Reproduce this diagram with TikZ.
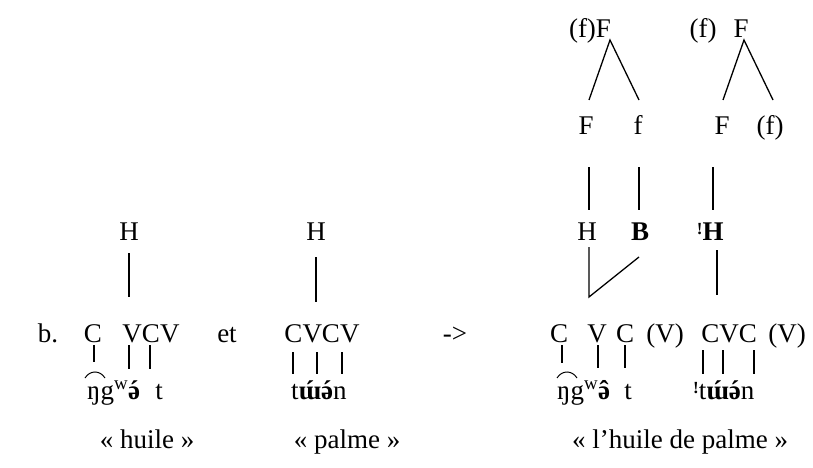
\documentclass[tikz,border=0pt]{standalone}
\usepackage{fontspec}
\setmainfont{Liberation Serif}
\newcommand{\dstep}{{\fontsize{17}{17}\selectfont\raisebox{6pt}{\textbf{!}}}}
\newcommand{\accon}[2]{\leavevmode\hbox{\ooalign{#1\cr\hidewidth#2\hidewidth\cr}}}
\newcommand{\schwaac}{\accon{\textbf{ə}}{\textbf{´}}}
\newcommand{\schwacirc}{\accon{\textbf{ə}}{\textbf{ˆ}}}
\newcommand{\uac}{\accon{\textbf{ɯ}}{\textbf{´}}}
\begin{document}
\begin{tikzpicture}[x=1pt,y=-1pt]
\tikzset{
  lbl/.style={anchor=base, inner sep=0pt, font=\fontsize{27}{32}\selectfont},
  lbw/.style={lbl, anchor=base west},
  assoc/.style={line width=1.3pt},
}
\useasboundingbox (0,0) rectangle (813,468);
% ---- left: huile
\node[lbl] (b) at (48,342) {b.};
\node[lbl] (hH) at (129,240) {H};
\node[lbl] (hC) at (93,342) {C};
\node[lbl] (hVCV) at (151,342) {VCV};
\node[lbl] (et) at (227,342) {et};
\node[lbw] (hipa) at (87,399) {ŋg\textsuperscript{w}\schwaac};
\node[lbl] (ht) at (159,399) {t};
\node[lbl] (hgl) at (147,448) {«~huile~»};
\coordinate (hH1) at (129,253); \coordinate (hH2) at (129,297);
\draw[assoc] (hH1) -- (hH2);
\coordinate (ha1) at (94,345); \coordinate (ha2) at (94,362);
\coordinate (hb1) at (129,345); \coordinate (hb2) at (129,369);
\coordinate (hc1) at (150,345); \coordinate (hc2) at (150,369);
\draw[assoc] (ha1) -- (ha2) (hb1) -- (hb2) (hc1) -- (hc2);
\coordinate (htie1) at (85,378); \coordinate (htie2) at (105,378);
\draw[line width=1pt] (htie1) .. controls (90,370) and (100,370) .. (htie2);
% ---- middle: palme
\node[lbl] (pH) at (316,240) {H};
\node[lbl] (pCVCV) at (322,342) {CVCV};
\node[lbw] (pipa) at (291,399) {t\uac\schwaac n};
\node[lbl] (pgl) at (347,448) {«~palme~»};
\coordinate (pH1) at (316,257); \coordinate (pH2) at (316,302);
\draw[assoc] (pH1) -- (pH2);
\coordinate (pa1) at (293,352); \coordinate (pa2) at (293,374);
\coordinate (pb1) at (317,352); \coordinate (pb2) at (317,374);
\coordinate (pc1) at (342,352); \coordinate (pc2) at (342,374);
\draw[assoc] (pa1) -- (pa2) (pb1) -- (pb2) (pc1) -- (pc2);
\node[lbl] (arr) at (455,342) {->};
% ---- right: l'huile de palme
\node[lbl] (t1) at (590,38) {(f)F};
\node[lbl] (t2a) at (703,38) {(f)};
\node[lbl] (t2b) at (741,38) {F};
\node[lbl] (r1F) at (586,134) {F};
\node[lbl] (r1f) at (638,134) {f};
\node[lbl] (r2F) at (722,134) {F};
\node[lbl] (r2f) at (770,134) {(f)};
\coordinate (ap1) at (610,40); \coordinate (l1a) at (589,100); \coordinate (l1b) at (639,100);
\coordinate (ap2) at (744,40); \coordinate (l2a) at (723,100); \coordinate (l2b) at (773,100);
\draw[assoc] (l1a) -- (ap1) -- (l1b);
\draw[assoc] (l2a) -- (ap2) -- (l2b);
\node[lbl] (rH) at (587,240) {H};
\node[lbl] (rB) at (640,240) {\textbf{B}};
\node[lbl] (rdH) at (713,240) {\llap{\dstep}\textbf{H}};
\coordinate (v1a) at (589,167); \coordinate (v1b) at (589,210);
\coordinate (v2a) at (639,167); \coordinate (v2b) at (639,210);
\coordinate (v3a) at (713,167); \coordinate (v3b) at (713,210);
\draw[assoc] (v1a) -- (v1b) (v2a) -- (v2b) (v3a) -- (v3b);
\coordinate (hv1) at (589,247); \coordinate (hv2) at (589,297); \coordinate (bv) at (639,257);
\draw[assoc] (hv1) -- (hv2) -- (bv);
\coordinate (dh1) at (717,250); \coordinate (dh2) at (717,295);
\draw[assoc] (dh1) -- (dh2);
\node[lbl] (rC1) at (559,342) {C};
\node[lbl] (rV1) at (597,342) {V};
\node[lbl] (rC2) at (625,342) {C};
\node[lbl] (rV2) at (665,342) {(V)};
\node[lbl] (rCVC) at (729,342) {CVC};
\node[lbl] (rV3) at (787,342) {(V)};
\coordinate (ra1) at (562,345); \coordinate (ra2) at (562,363);
\coordinate (rb1) at (598,345); \coordinate (rb2) at (598,368);
\coordinate (rc1) at (625,345); \coordinate (rc2) at (625,368);
\coordinate (rd1) at (703,350); \coordinate (rd2) at (703,374);
\coordinate (re1) at (723,350); \coordinate (re2) at (723,374);
\coordinate (rf1) at (754,350); \coordinate (rf2) at (754,374);
\draw[assoc] (ra1) -- (ra2) (rb1) -- (rb2) (rc1) -- (rc2) (rd1) -- (rd2) (re1) -- (re2) (rf1) -- (rf2);
\node[lbw] (ripa) at (557,399) {ŋg\textsuperscript{w}\schwacirc};
\node[lbl] (rt) at (628,399) {t};
\node[lbw] (ripa2) at (693,399) {\dstep t\uac\schwaac n};
\coordinate (rtie1) at (557,378); \coordinate (rtie2) at (577,378);
\draw[line width=1pt] (rtie1) .. controls (562,370) and (572,370) .. (rtie2);
\node[lbl] (rgl) at (680,448) {«~l’huile de palme~»};
\end{tikzpicture}
\end{document}
